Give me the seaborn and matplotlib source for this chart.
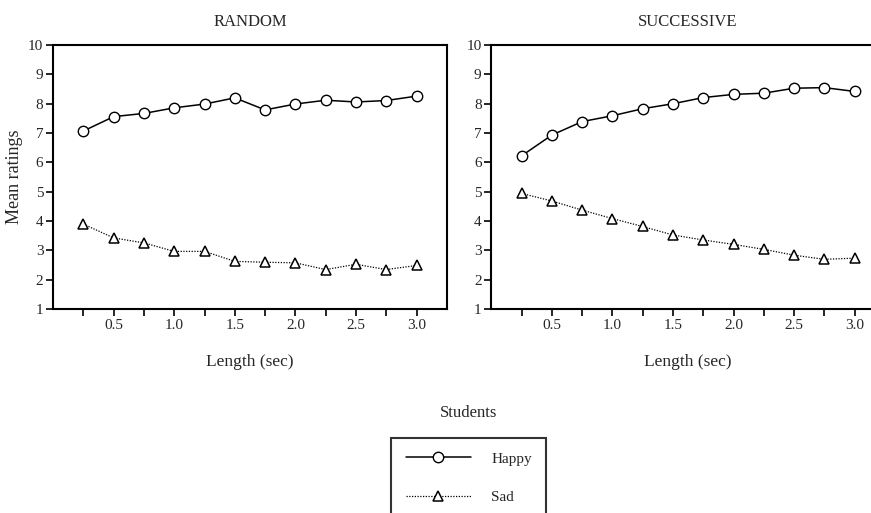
import numpy as np
import pandas as pd
import seaborn as sns
import matplotlib.pyplot as plt

sns.set_theme(style="ticks")
plt.rcParams['font.family'] = ['Liberation Serif', 'DejaVu Serif']

# data
lengths = [0.25, 0.5, 0.75, 1.0, 1.25, 1.5, 1.75, 2.0, 2.25, 2.5, 2.75, 3.0]
random_happy = [7.07, 7.56, 7.67, 7.86, 7.99, 8.20, 7.79, 7.99, 8.12, 8.06, 8.11, 8.26]
random_sad = [3.89, 3.42, 3.25, 2.96, 2.96, 2.62, 2.59, 2.57, 2.34, 2.52, 2.34, 2.48]
succ_happy = [6.22, 6.93, 7.39, 7.59, 7.83, 8.00, 8.21, 8.32, 8.36, 8.53, 8.55, 8.42]
succ_sad = [4.94, 4.68, 4.37, 4.08, 3.81, 3.52, 3.35, 3.20, 3.03, 2.83, 2.69, 2.73]
panel_titles = ["RANDOM", "SUCCESSIVE"]
x_tick_labels = ["", "0.5", "", "1.0", "", "1.5", "", "2.0", "", "2.5", "", "3.0"]
y_ticks = list(range(1, 11))

fig = plt.figure(figsize=(8.71, 5.13), dpi=100)
ax1 = fig.add_axes([0.061, 0.398, 0.452, 0.514])
ax2 = fig.add_axes([0.564, 0.398, 0.452, 0.514])

panels = [(ax1, random_happy, random_sad), (ax2, succ_happy, succ_sad)]

for i, (ax, happy, sad) in enumerate(panels):
    sns.lineplot(x=lengths, y=happy, ax=ax, color='black', linewidth=1.1,
                 marker='o', markersize=7.5, markerfacecolor='white',
                 markeredgecolor='black', markeredgewidth=1.0, label='Happy', legend=False)
    sns.lineplot(x=lengths, y=sad, ax=ax, color='black', linewidth=0.9,
                 linestyle=(0, (1, 1.2)),
                 marker='^', markersize=7.5, markerfacecolor='white',
                 markeredgecolor='black', markeredgewidth=1.1, label='Sad', legend=False)
    ax.set_xlim(0, 3.25)
    ax.set_ylim(1, 10)
    ax.set_xticks(lengths)
    ax.set_xticklabels(x_tick_labels)
    ax.set_yticks(y_ticks)
    ax.tick_params(direction='out', length=5, width=1.2, labelsize=11, color='black', pad=2)
    for s in ax.spines.values():
        s.set_linewidth(1.5)
        s.set_color('black')
    ax.set_title(panel_titles[i], fontsize=12, pad=14)
    ax.set_xlabel("Length (sec)", fontsize=12.5, labelpad=16)
    ax.set_ylabel("Mean ratings" if i == 0 else "", fontsize=13)

handles, labels = ax1.get_legend_handles_labels()
fig.text(0.538, 0.195, "Students", ha='center', va='center', fontsize=12)
leg = fig.legend(handles, labels, loc='upper center', bbox_to_anchor=(0.538, 0.162),
                 frameon=True, fancybox=False, edgecolor='black', fontsize=11,
                 handlelength=4.3, borderpad=0.95, labelspacing=1.6, handletextpad=1.3)
leg.get_frame().set_linewidth(1.5)

fig.savefig("out.png", dpi=100)
